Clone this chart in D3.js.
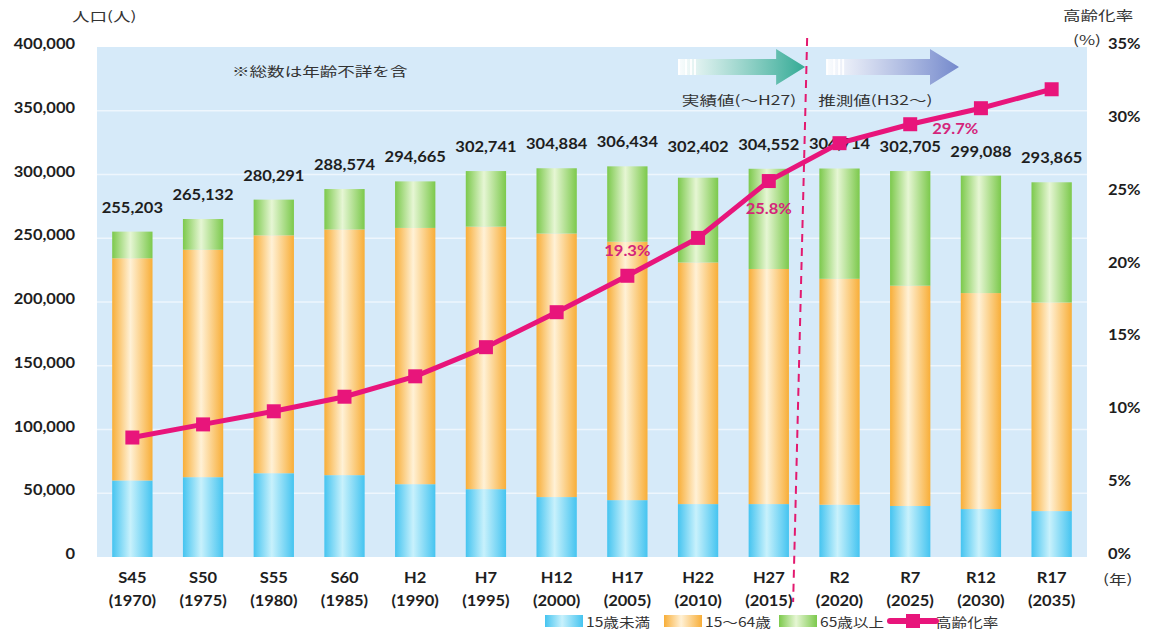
<!DOCTYPE html>
<html>
    <head>
        <meta charset="utf-8">
        <title>人口と高齢化率の推移</title>
        <script src="https://d3js.org/d3.v7.min.js"></script>
        <style>
            body {
                margin: 0;
                background: #ffffff;
            }
            svg {
                display: block;
            }
            .num {
                font-family: 'Lato', 'Liberation Sans', sans-serif;
                font-weight: 700;
                fill: #1e1e1e;
                font-size: 15px;
            }
            .jp {
                font-family: 'Noto Sans CJK JP', sans-serif;
                fill: #333;
                font-size: 13px;
            }
        </style>
    </head>
    <body>
        <script>
            const eras = ['S45', 'S50', 'S55', 'S60', 'H2', 'H7', 'H12', 'H17', 'H22', 'H27', 'R2', 'R7', 'R12', 'R17'];
            const years = ['1970', '1975', '1980', '1985', '1990', '1995', '2000', '2005', '2010', '2015', '2020', '2025', '2030', '2035'];
            const totals = [255203, 265132, 280291, 288574, 294665, 302741, 304884, 306434, 302402, 304552, 304714, 302705, 299088, 293865];
            const under15 = [60000, 62600, 65700, 64200, 57100, 53200, 47000, 44600, 41500, 41500, 41000, 40000, 37600, 36000];
            const age15to64 = [174300, 178400, 186600, 192700, 201000, 205900, 206700, 202700, 189500, 184400, 177200, 172800, 169400, 163600];
            const over65 = [20900, 24100, 28000, 31700, 36500, 43600, 51200, 59100, 66500, 78600, 86500, 89900, 92100, 94300];
            const agingRate = [8.2, 9.1, 10.0, 11.0, 12.4, 14.4, 16.8, 19.3, 21.9, 25.8, 28.4, 29.7, 30.8, 32.1];
            const rateLabels = [{ i: 7, text: '19.3%', dx: 0, dy: -20 }, { i: 9, text: '25.8%', dx: 0, dy: 33 }, { i: 11, text: '29.7%', dx: 45, dy: 10 }];
            const yTicks = [0, 50000, 100000, 150000, 200000, 250000, 300000, 350000, 400000];
            const rTicks = [0, 5, 10, 15, 20, 25, 30, 35];
            const seriesNames = ['15歳未満', '15～64歳', '65歳以上'];

            const width = 1151;
            const height = 632;
            const margin = { top: 47, right: 64, bottom: 75, left: 97 };
            const SX = 1.1; // numbers are drawn a little wide
            const SJ = 1.35; // japanese text is drawn wide

            const rows = eras.map((era, i) => ({ era, year: years[i], total: totals[i], a: under15[i], b: age15to64[i], c: over65[i], rate: agingRate[i] }));

            const svg = d3.select('body').append('svg').attr('width', width).attr('height', height);
            const defs = svg.append('defs');

            // stretched text placed at (px, py)
            function wide(sel, px, py, s = SX) {
                const f = (v, d, i) => (typeof v === 'function' ? v(d, i) : v);
                return sel.attr('transform', (d, i) => `translate(${f(px, d, i)},${f(py, d, i)}) scale(${s},1)`);
            }

            // horizontal gradients for the bars, darker at the edges
            const barColors = [
                { id: 'gBlue', edge: '#45c4f0', mid: '#c8f1fc' },
                { id: 'gOrange', edge: '#f8ae38', mid: '#fff1d6' },
                { id: 'gGreen', edge: '#7cc94c', mid: '#e6f6d4' }
            ];
            barColors.forEach((c) => {
                const g = defs.append('linearGradient').attr('id', c.id).attr('x1', 0).attr('x2', 1).attr('y1', 0).attr('y2', 0);
                g.append('stop').attr('offset', '0%').attr('stop-color', c.edge);
                g.append('stop').attr('offset', '45%').attr('stop-color', c.mid);
                g.append('stop').attr('offset', '100%').attr('stop-color', c.edge);
            });
            const arrowColors = [
                { id: 'aTeal', end: '#33aa95' },
                { id: 'aSlate', end: '#7489cc' }
            ];
            arrowColors.forEach((c) => {
                const g = defs.append('linearGradient').attr('id', c.id).attr('x1', 0).attr('x2', 1).attr('y1', 0).attr('y2', 0);
                g.append('stop').attr('offset', '0%').attr('stop-color', '#ffffff').attr('stop-opacity', 0.9);
                g.append('stop').attr('offset', '100%').attr('stop-color', c.end);
            });

            const x = d3
                .scaleBand()
                .domain(eras)
                .range([margin.left, width - margin.right])
                .paddingInner(0.43)
                .paddingOuter(0.215);
            const y = d3
                .scaleLinear()
                .domain([0, 400000])
                .range([height - margin.bottom, margin.top]);
            const yr = d3
                .scaleLinear()
                .domain([0, 35])
                .range([height - margin.bottom, margin.top]);
            const cx = (era) => x(era) + x.bandwidth() / 2;

            // plot background
            svg.append('rect')
                .attr('x', margin.left)
                .attr('y', y(400000))
                .attr('width', width - margin.left - margin.right)
                .attr('height', y(0) - y(400000))
                .attr('fill', '#d6eaf9');

            svg.append('g')
                .selectAll('line')
                .data(yTicks.slice(1, -1))
                .enter()
                .append('line')
                .attr('x1', margin.left)
                .attr('x2', width - margin.right)
                .attr('y1', (d) => y(d))
                .attr('y2', (d) => y(d))
                .attr('stroke', '#eef6fd')
                .attr('stroke-width', 1.5);

            // left axis
            const yAxis = d3
                .axisLeft(y)
                .tickValues(yTicks)
                .tickSize(0)
                .tickFormat(d3.format(','));
            const gy = svg.append('g').attr('transform', `translate(${margin.left},0)`).call(yAxis);
            gy.select('.domain').remove();
            gy.selectAll('text')
                .attr('class', 'num')
                .attr('x', -22 / SX)
                .attr('dy', '0.1em')
                .attr('transform', `scale(${SX},1)`);

            // right axis
            const rAxis = d3
                .axisRight(yr)
                .tickValues(rTicks)
                .tickSize(0)
                .tickFormat((d) => d + '%');
            const gr = svg.append('g').attr('transform', `translate(${width - margin.right},0)`).call(rAxis);
            gr.select('.domain').remove();
            gr.selectAll('text')
                .attr('class', 'num')
                .attr('x', 21 / SX)
                .attr('dy', '0.1em')
                .attr('transform', `scale(${SX},1)`);

            // stacked bars
            const stack = d3.stack().keys(['a', 'b', 'c'])(rows);
            const fills = ['url(#gBlue)', 'url(#gOrange)', 'url(#gGreen)'];
            svg.append('g')
                .selectAll('g')
                .data(stack)
                .enter()
                .append('g')
                .attr('fill', (d, i) => fills[i])
                .selectAll('rect')
                .data((d) => d)
                .enter()
                .append('rect')
                .attr('x', (d) => x(d.data.era))
                .attr('y', (d) => y(d[1]))
                .attr('width', x.bandwidth())
                .attr('height', (d) => y(d[0]) - y(d[1]));

            // total labels
            wide(
                svg.append('g')
                    .selectAll('text')
                    .data(rows)
                    .enter()
                    .append('text')
                    .attr('class', 'num')
                    .attr('text-anchor', 'middle')
                    .text((d) => d3.format(',')(d.total)),
                (d) => cx(d.era),
                (d) => y(d.total) - 19
            );

            // dashed divider between actual and projected
            const divX = (x('H27') + x.bandwidth() + x('R2')) / 2;
            svg.append('line')
                .attr('x1', divX + 3)
                .attr('y1', y(400000) - 9)
                .attr('x2', divX - 11)
                .attr('y2', height - 30)
                .attr('stroke', '#e3196f')
                .attr('stroke-width', 2)
                .attr('stroke-dasharray', '8,6');

            // arrows
            function arrow(x0, x1, fillId) {
                const g = svg.append('g');
                const cy = 67;
                g.append('path')
                    .attr('d', `M${x0},${cy - 8} L${x1 - 29},${cy - 8} L${x1 - 29},${cy - 18} L${x1},${cy} L${x1 - 29},${cy + 18} L${x1 - 29},${cy + 8} L${x0},${cy + 8} Z`)
                    .attr('fill', `url(#${fillId})`);
                [0, 7, 12, 16].forEach((o) => {
                    g.append('rect')
                        .attr('x', x0 + o)
                        .attr('y', cy - 8)
                        .attr('width', 2)
                        .attr('height', 16)
                        .attr('fill', '#ffffff')
                        .attr('opacity', 0.9);
                });
            }
            arrow(678, divX + 1, 'aTeal');
            arrow(divX + 22, 959, 'aSlate');

            wide(svg.append('text').attr('class', 'jp').attr('text-anchor', 'end').text('実績値(～H27)'), divX - 8, 105, SJ);
            wide(svg.append('text').attr('class', 'jp').text('推測値(H32～)'), divX + 14, 105, SJ);
            wide(svg.append('text').attr('class', 'jp').text('※総数は年齢不詳を含'), 232, 76, SJ);

            // aging rate line
            const line = d3
                .line()
                .x((d) => cx(d.era))
                .y((d) => yr(d.rate));
            svg.append('path')
                .datum(rows)
                .attr('d', line)
                .attr('fill', 'none')
                .attr('stroke', '#e8157b')
                .attr('stroke-width', 5);
            svg.append('g')
                .selectAll('rect')
                .data(rows)
                .enter()
                .append('rect')
                .attr('x', (d) => cx(d.era) - 7)
                .attr('y', (d) => yr(d.rate) - 7)
                .attr('width', 14)
                .attr('height', 14)
                .attr('fill', '#e8157b');

            wide(
                svg.append('g')
                    .selectAll('text')
                    .data(rateLabels)
                    .enter()
                    .append('text')
                    .attr('class', 'num')
                    .attr('text-anchor', 'middle')
                    .style('fill', '#d4257b')
                    .text((d) => d.text),
                (d) => cx(eras[d.i]) + d.dx,
                (d) => yr(agingRate[d.i]) + d.dy
            );

            // x labels
            const gx = svg.append('g');
            wide(
                gx.selectAll('text.era')
                    .data(rows)
                    .enter()
                    .append('text')
                    .attr('class', 'num')
                    .attr('text-anchor', 'middle')
                    .text((d) => d.era),
                (d) => cx(d.era),
                583
            );
            wide(
                gx.selectAll('text.yr')
                    .data(rows)
                    .enter()
                    .append('text')
                    .attr('class', 'num')
                    .attr('text-anchor', 'middle')
                    .text((d) => `(${d.year})`),
                (d) => cx(d.era),
                606
            );

            // axis titles
            wide(svg.append('text').attr('class', 'jp').text('人口(人)'), 72, 21, SJ);
            wide(svg.append('text').attr('class', 'jp').text('高齢化率'), 1063, 20, SJ);
            wide(svg.append('text').attr('class', 'jp').text('(%)'), 1073, 45, SJ);
            wide(svg.append('text').attr('class', 'jp').text('(年)'), 1103, 584, SJ);

            // legend
            const legend = svg.append('g').attr('transform', 'translate(0,621)');
            const legendItems = [
                { x: 545, fill: 'url(#gBlue)', text: seriesNames[0] },
                { x: 664, fill: 'url(#gOrange)', text: seriesNames[1] },
                { x: 779, fill: 'url(#gGreen)', text: seriesNames[2] }
            ];
            legendItems.forEach((it) => {
                legend.append('rect').attr('x', it.x).attr('y', -6).attr('width', 38).attr('height', 12).attr('fill', it.fill);
                wide(legend.append('text').attr('class', 'jp').text(it.text), it.x + 41, 6, 1.2);
            });
            legend.append('line').attr('x1', 890).attr('x2', 936).attr('y1', 0).attr('y2', 0).attr('stroke', '#e8157b').attr('stroke-width', 6).attr('stroke-linecap', 'round');
            legend.append('rect').attr('x', 906).attr('y', -7).attr('width', 14).attr('height', 14).attr('fill', '#e8157b');
            wide(legend.append('text').attr('class', 'jp').text('高齢化率'), 936, 6, 1.2);
        </script>
    </body>
</html>
